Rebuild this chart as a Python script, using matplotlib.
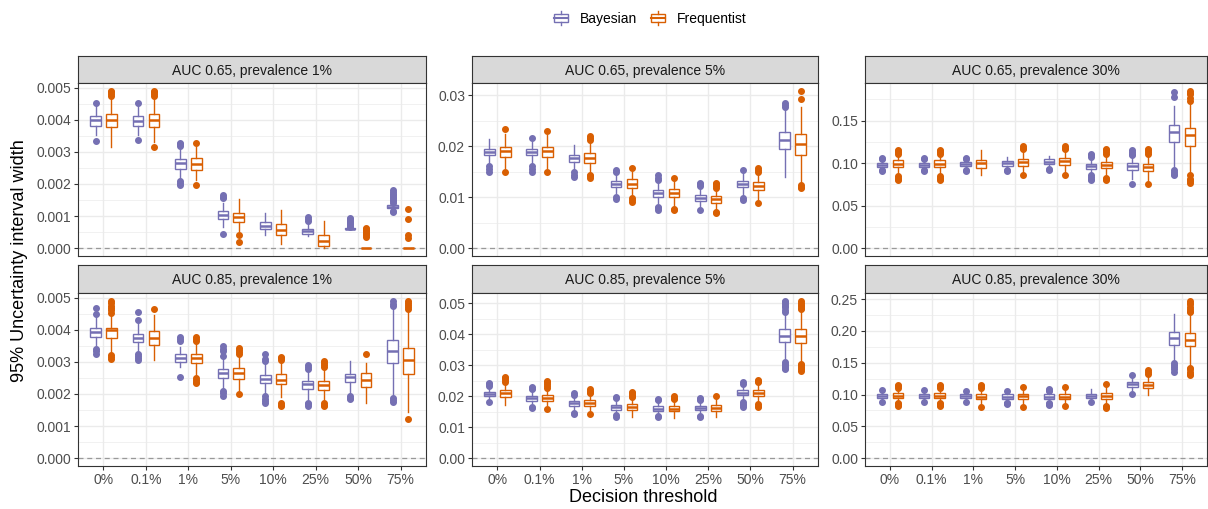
import matplotlib
matplotlib.use("Agg")
import matplotlib.pyplot as plt
from matplotlib.patches import Rectangle
from matplotlib.lines import Line2D
from matplotlib.legend_handler import HandlerBase
from matplotlib.ticker import MultipleLocator, FormatStrFormatter

plt.rcParams['font.family'] = ['Liberation Sans', 'DejaVu Sans']

# categorias y paneles
thresholds = ["0%", "0.1%", "1%", "5%", "10%", "25%", "50%", "75%"]
panel_titles = ["AUC 0.65, prevalence 1%", "AUC 0.65, prevalence 5%", "AUC 0.65, prevalence 30%",
                "AUC 0.85, prevalence 1%", "AUC 0.85, prevalence 5%", "AUC 0.85, prevalence 30%"]
y_steps = [0.001, 0.01, 0.05, 0.001, 0.01, 0.05]
y_decimals = [3, 2, 2, 3, 2, 2]
methods = ["Bayesian", "Frequentist"]

# cada fila: [bigote inferior, q1, mediana, q3, bigote superior]
# AUC 0.65, prevalence 1%
bay_p1 = [[0.00352, 0.00382, 0.00399, 0.00413, 0.00445],
          [0.00352, 0.00381, 0.00397, 0.00411, 0.00445],
          [0.00217, 0.00248, 0.00264, 0.00277, 0.00310],
          [0.00067, 0.00090, 0.00104, 0.00117, 0.00140],
          [0.00041, 0.00059, 0.00070, 0.00080, 0.00111],
          [0.00039, 0.00045, 0.00052, 0.00061, 0.00078],
          [0.00059, 0.00060, 0.00061, 0.00062, 0.00063],
          [0.00120, 0.00124, 0.00129, 0.00134, 0.00138]]
bay_p1_out = [[0.00335, 0.00453], [0.00338, 0.00453],
              [0.00197, 0.00203, 0.00210, 0.00318, 0.00323, 0.00328],
              [0.00045, 0.00155, 0.00160, 0.00166], [],
              [0.00084, 0.00090, 0.00096],
              [0.00066, 0.00070, 0.00074, 0.00078, 0.00082, 0.00086, 0.00090, 0.00093],
              [0.00114, 0.00117, 0.00142, 0.00146, 0.00150, 0.00155, 0.00160, 0.00165, 0.00170, 0.00175, 0.00180]]
freq_p1 = [[0.00316, 0.00376, 0.00398, 0.00417, 0.00466],
           [0.00331, 0.00376, 0.00398, 0.00417, 0.00466],
           [0.00212, 0.00245, 0.00262, 0.00280, 0.00316],
           [0.00052, 0.00081, 0.00098, 0.00111, 0.00153],
           [0.00012, 0.00041, 0.00057, 0.00075, 0.00119],
           [0.00000, 0.00008, 0.00023, 0.00041, 0.00083],
           [0.0, 0.0, 0.0, 0.0, 0.0],
           [0.0, 0.0, 0.0, 0.0, 0.0]]
freq_p1_out = [[0.00475, 0.00480, 0.00485, 0.00490],
               [0.00315, 0.00475, 0.00480, 0.00485, 0.00490],
               [0.00196, 0.00328], [0.00018, 0.00040], [], [],
               [0.00036, 0.00040, 0.00044, 0.00048, 0.00052, 0.00056, 0.00060, 0.00063],
               [0.00031, 0.00041, 0.00090, 0.00122]]

# AUC 0.65, prevalence 5%
bay_p2 = [[0.0166, 0.01826, 0.01891, 0.01944, 0.02133],
          [0.0166, 0.01826, 0.01891, 0.01944, 0.0209],
          [0.0155, 0.01696, 0.01761, 0.01826, 0.02022],
          [0.0108, 0.01194, 0.01259, 0.01324, 0.0146],
          [0.0088, 0.01011, 0.01076, 0.01141, 0.0131],
          [0.0076, 0.00933, 0.00991, 0.01043, 0.0117],
          [0.0104, 0.01194, 0.01259, 0.01324, 0.0147],
          [0.0140, 0.01944, 0.0212, 0.02283, 0.0274]]
bay_p2_out = [[0.0150, 0.0155, 0.0162], [0.0150, 0.0156, 0.0161, 0.02165],
              [0.0140, 0.0144, 0.0149], [0.0097, 0.0101, 0.0150, 0.0154],
              [0.0074, 0.0078, 0.0081, 0.0134, 0.0138, 0.01435],
              [0.0074, 0.0121, 0.0125, 0.0128], [0.0095, 0.0099, 0.0153],
              [0.0277, 0.0281, 0.0285]]
freq_p2 = [[0.0157, 0.0178, 0.01898, 0.01989, 0.02237],
           [0.0157, 0.0178, 0.01898, 0.01989, 0.0221],
           [0.0150, 0.01676, 0.01761, 0.01859, 0.0210],
           [0.0101, 0.01174, 0.01259, 0.0135, 0.0150],
           [0.0082, 0.00998, 0.01076, 0.01154, 0.0131],
           [0.0075, 0.00893, 0.00965, 0.01024, 0.0114],
           [0.0091, 0.01141, 0.0122, 0.01298, 0.0147],
           [0.0128, 0.01826, 0.02041, 0.02237, 0.0277]]
freq_p2_out = [[0.0149, 0.02335], [0.0149, 0.0229],
               [0.0137, 0.0141, 0.0144, 0.0212, 0.0216, 0.0220],
               [0.0091, 0.0095, 0.0098, 0.0157], [0.0074, 0.0077, 0.0137],
               [0.0068, 0.0071, 0.0118, 0.0122, 0.0125, 0.0128],
               [0.0089, 0.0150, 0.0154, 0.0158],
               [0.0117, 0.0120, 0.0124, 0.02935, 0.03085]]

# AUC 0.65, prevalence 30%
bay_p3 = [[0.0944, 0.0959, 0.0982, 0.1005, 0.1025],
          [0.0944, 0.0959, 0.0982, 0.1005, 0.1025],
          [0.0935, 0.0963, 0.0994, 0.1013, 0.1030],
          [0.0945, 0.0970, 0.0998, 0.1025, 0.1072],
          [0.0955, 0.0986, 0.1017, 0.1044, 0.1087],
          [0.0868, 0.0935, 0.0970, 0.0994, 0.1052],
          [0.0818, 0.0924, 0.0963, 0.1002, 0.1072],
          [0.0935, 0.1247, 0.1364, 0.1454, 0.1676]]
bay_p3_out = [[0.0905, 0.0915, 0.1045, 0.1055], [0.0905, 0.0915, 0.1045, 0.1055],
              [0.0905, 0.0915, 0.1045, 0.1055], [0.0908, 0.0915], [0.0924, 0.0932],
              [0.0799, 0.0815, 0.0835, 0.0857, 0.1072, 0.1090, 0.1110],
              [0.0760, 0.1095, 0.1110, 0.1130, 0.1157],
              [0.0857, 0.0875, 0.0895, 0.0915, 0.1773, 0.1840]]
freq_p3 = [[0.0857, 0.0955, 0.0994, 0.1033, 0.1095],
           [0.0857, 0.0955, 0.0994, 0.1033, 0.1095],
           [0.0857, 0.0947, 0.1005, 0.1040, 0.1150],
           [0.0875, 0.0966, 0.1013, 0.1044, 0.1157],
           [0.0875, 0.0982, 0.1025, 0.1056, 0.1157],
           [0.0857, 0.0943, 0.0982, 0.1009, 0.1095],
           [0.0765, 0.0904, 0.0955, 0.0994, 0.1095],
           [0.0875, 0.1200, 0.1325, 0.1415, 0.1705]]
freq_p3_out = [[0.0799, 0.0815, 0.0830, 0.0846, 0.1110, 0.1130, 0.1145, 0.1157],
               [0.0799, 0.0815, 0.0830, 0.0846, 0.1110, 0.1130, 0.1145, 0.1157],
               [], [0.0857, 0.1165, 0.1180, 0.1196], [0.0857, 0.1165, 0.1180, 0.1196],
               [0.0799, 0.0815, 0.0830, 0.1110, 0.1130, 0.1150, 0.1169],
               [0.0752, 0.1110, 0.1130, 0.1150, 0.1169],
               [0.0768, 0.0785, 0.0805, 0.0818, 0.0857, 0.1730, 0.1770, 0.1810, 0.1830, 0.1850]]

# AUC 0.85, prevalence 1%
bay_p4 = [[0.00345, 0.00378, 0.00393, 0.00406, 0.00445],
          [0.00325, 0.00362, 0.00375, 0.00386, 0.00425],
          [0.00285, 0.00299, 0.00313, 0.00323, 0.00345],
          [0.00220, 0.00251, 0.00266, 0.00279, 0.00310],
          [0.00198, 0.00233, 0.00247, 0.00258, 0.00292],
          [0.00183, 0.00216, 0.00230, 0.00240, 0.00272],
          [0.00198, 0.00237, 0.00254, 0.00263, 0.00303],
          [0.00192, 0.00295, 0.00334, 0.00367, 0.00465]]
bay_p4_out = [[0.00326, 0.00333, 0.00341, 0.00448, 0.00469],
              [0.00306, 0.00312, 0.00318, 0.00323, 0.00430, 0.00455],
              [0.00254, 0.00365, 0.00370, 0.00378],
              [0.00195, 0.00202, 0.00209, 0.00318, 0.00335, 0.00340, 0.00349],
              [0.00173, 0.00178, 0.00185, 0.00193, 0.00302, 0.00310, 0.00323],
              [0.00163, 0.00168, 0.00173, 0.00277, 0.00283, 0.00289],
              [0.00183, 0.00188, 0.00193],
              [0.00175, 0.00180, 0.00188, 0.00474, 0.00480, 0.00490]]
freq_p4 = [[0.00328, 0.00373, 0.00398, 0.00406, 0.00445],
           [0.00306, 0.00354, 0.00375, 0.00396, 0.00445],
           [0.00255, 0.00295, 0.00311, 0.00326, 0.00355],
           [0.00210, 0.00247, 0.00264, 0.00282, 0.00320],
           [0.00190, 0.00230, 0.00245, 0.00261, 0.00300],
           [0.00178, 0.00212, 0.00227, 0.00240, 0.00280],
           [0.00173, 0.00222, 0.00243, 0.00264, 0.00295],
           [0.00143, 0.00263, 0.00306, 0.00344, 0.00465]]
freq_p4_out = [[0.00310, 0.00315, 0.00320, 0.00453, 0.00460, 0.00468, 0.00475, 0.00483, 0.00490],
               [0.00466],
               [0.00233, 0.00238, 0.00245, 0.00250, 0.00365, 0.00370, 0.00378],
               [0.00199, 0.00323, 0.00330, 0.00337, 0.00344],
               [0.00162, 0.00167, 0.00172, 0.00306, 0.00311, 0.00316],
               [0.00161, 0.00166, 0.00171, 0.00285, 0.00290, 0.00297, 0.00303],
               [0.00323],
               [0.00123, 0.00466, 0.00472, 0.00478, 0.00484, 0.00490]]

# AUC 0.85, prevalence 5%
bay_p5 = [[0.0188, 0.0199, 0.0206, 0.0214, 0.0230],
          [0.0177, 0.0185, 0.0194, 0.0201, 0.0220],
          [0.0154, 0.0169, 0.0178, 0.0185, 0.0201],
          [0.0145, 0.0156, 0.0165, 0.0172, 0.0188],
          [0.0140, 0.0151, 0.0159, 0.0167, 0.0182],
          [0.0144, 0.0154, 0.0161, 0.0169, 0.0182],
          [0.0188, 0.0202, 0.0211, 0.0219, 0.0236],
          [0.0322, 0.0375, 0.0395, 0.0415, 0.0466]]
bay_p5_out = [[0.0180, 0.0233, 0.0238, 0.0242],
              [0.0162, 0.0166, 0.0222, 0.0226, 0.0229],
              [0.0142, 0.0146, 0.0205, 0.0210],
              [0.0134, 0.0138, 0.0193, 0.0197],
              [0.0131, 0.0135, 0.0186, 0.0190],
              [0.0132, 0.0136, 0.0186, 0.0190, 0.0194],
              [0.0166, 0.0171, 0.0176, 0.0181, 0.0240, 0.0244],
              [0.0287, 0.0291, 0.0295, 0.0300, 0.0305, 0.0310, 0.0472, 0.0478, 0.0487, 0.0492, 0.0497, 0.0502, 0.0507]]
freq_p5 = [[0.0172, 0.0197, 0.0209, 0.0220, 0.0243],
           [0.0172, 0.0183, 0.0194, 0.0203, 0.0222],
           [0.0155, 0.0167, 0.0178, 0.0188, 0.0205],
           [0.0133, 0.0154, 0.0165, 0.0174, 0.0193],
           [0.0129, 0.0151, 0.0160, 0.0169, 0.0188],
           [0.0133, 0.0152, 0.0161, 0.0171, 0.0194],
           [0.0182, 0.0199, 0.0210, 0.0219, 0.0238],
           [0.0307, 0.0370, 0.0394, 0.0415, 0.0472]]
freq_p5_out = [[0.0247, 0.0252, 0.0257, 0.0262],
               [0.0158, 0.0226, 0.0232, 0.0238, 0.0244, 0.0250],
               [0.0142, 0.0210, 0.0214, 0.0218, 0.0222],
               [0.0197, 0.0201, 0.0205, 0.0209, 0.0213],
               [0.0191, 0.0195, 0.0199],
               [0.0199],
               [0.0165, 0.0169, 0.0173, 0.0244, 0.0248, 0.0252],
               [0.0282, 0.0287, 0.0291, 0.0295, 0.0300, 0.0304, 0.0480, 0.0485, 0.0490, 0.0495, 0.0500, 0.0505]]

# AUC 0.85, prevalence 30%
bay_p6 = [[0.0930, 0.0951, 0.0977, 0.1003, 0.1045],
          [0.0930, 0.0951, 0.0977, 0.1003, 0.1045],
          [0.0915, 0.0941, 0.0972, 0.1003, 0.1035],
          [0.0890, 0.0930, 0.0967, 0.1003, 0.1035],
          [0.0890, 0.0925, 0.0967, 0.1003, 0.1040],
          [0.0925, 0.0951, 0.0982, 0.1008, 0.1081],
          [0.1048, 0.1123, 0.1159, 0.1200, 0.1270],
          [0.1515, 0.1783, 0.1892, 0.1980, 0.2266]]
bay_p6_out = [[0.0889, 0.1070], [0.0889, 0.1070], [0.0889, 0.1055],
              [0.0847, 0.0860, 0.0873, 0.1055],
              [0.0837, 0.0855, 0.0873, 0.1055, 0.1068, 0.1081],
              [0.0878], [0.1008, 0.1305],
              [0.1357, 0.1395, 0.1435, 0.1465, 0.1497]]
freq_p6 = [[0.0889, 0.0941, 0.0982, 0.1024, 0.1080],
           [0.0889, 0.0941, 0.0982, 0.1024, 0.1080],
           [0.0837, 0.0925, 0.0967, 0.1013, 0.1080],
           [0.0837, 0.0930, 0.0977, 0.1013, 0.1085],
           [0.0847, 0.0925, 0.0967, 0.1008, 0.1085],
           [0.0837, 0.0925, 0.0977, 0.1029, 0.1123],
           [0.0993, 0.1097, 0.1154, 0.1200, 0.1305],
           [0.1450, 0.1762, 0.1861, 0.1975, 0.2266]]
freq_p6_out = [[0.0821, 0.0837, 0.0855, 0.0873, 0.1107, 0.1128, 0.1149],
               [0.0821, 0.0837, 0.0855, 0.0873, 0.1107, 0.1128, 0.1149],
               [0.0811, 0.1107, 0.1128, 0.1149],
               [0.0811, 0.1123], [0.0821, 0.1123],
               [0.0785, 0.0803, 0.0821, 0.1164],
               [0.1331, 0.1357, 0.1383],
               [0.1305, 0.1330, 0.1362, 0.1395, 0.1424, 0.2292, 0.2320, 0.2349, 0.2380, 0.2417, 0.2445, 0.2474]]

bay_all = [bay_p1, bay_p2, bay_p3, bay_p4, bay_p5, bay_p6]
bay_all_out = [bay_p1_out, bay_p2_out, bay_p3_out, bay_p4_out, bay_p5_out, bay_p6_out]
freq_all = [freq_p1, freq_p2, freq_p3, freq_p4, freq_p5, freq_p6]
freq_all_out = [freq_p1_out, freq_p2_out, freq_p3_out, freq_p4_out, freq_p5_out, freq_p6_out]

colors = {"Bayesian": "#7570B3", "Frequentist": "#D95F02"}

W, H = 1208, 509
def px_rect(x0, y0, x1, y1):
    return [x0 / W, 1 - y1 / H, (x1 - x0) / W, (y1 - y0) / H]

cols = [(78, 426), (472, 818), (865, 1207)]
rows = [(83, 256), (293, 466)]
strips = [(56, 83), (265, 293)]

def make_stats(rows_stats, outs):
    st = []
    for s, o in zip(rows_stats, outs):
        st.append(dict(whislo=s[0], q1=s[1], med=s[2], q3=s[3], whishi=s[4], fliers=o))
    return st

fig = plt.figure(figsize=(W / 100, H / 100), dpi=100)

for k in range(6):
    r, c = divmod(k, 3)
    x0, x1 = cols[c]
    # tira del título
    sax = fig.add_axes(px_rect(x0, strips[r][0], x1, strips[r][1]))
    sax.set_facecolor("#D9D9D9")
    sax.set_xticks([]); sax.set_yticks([])
    for sp in sax.spines.values():
        sp.set_color("#333333"); sp.set_linewidth(0.8)
    sax.text(0.5, 0.45, panel_titles[k], ha="center", va="center", fontsize=10, color="#1A1A1A",
             transform=sax.transAxes)

    ax = fig.add_axes(px_rect(x0, rows[r][0], x1, rows[r][1]))
    ax.set_axisbelow(True)
    pos = list(range(1, len(thresholds) + 1))
    for m, stats, outs, off in [("Bayesian", bay_all[k], bay_all_out[k], -0.1875),
                                ("Frequentist", freq_all[k], freq_all_out[k], 0.1875)]:
        col = colors[m]
        ax.bxp(make_stats(stats, outs), positions=[p + off for p in pos], widths=0.25,
               showcaps=False, patch_artist=True, manage_ticks=False,
               boxprops=dict(facecolor="white", edgecolor=col, linewidth=1.0),
               medianprops=dict(color=col, linewidth=1.8, solid_capstyle="butt"),
               whiskerprops=dict(color=col, linewidth=1.0),
               flierprops=dict(marker="o", markerfacecolor=col, markeredgecolor=col,
                               markersize=4, linestyle="none"))
    ax.axhline(0, color="#999999", linestyle=(0, (4, 3)), linewidth=0.9, zorder=1)
    ax.set_xlim(0.4, len(thresholds) + 0.6)
    ax.margins(y=0.05)
    ax.set_xticks(pos)
    ax.yaxis.set_major_locator(MultipleLocator(y_steps[k]))
    ax.yaxis.set_minor_locator(MultipleLocator(y_steps[k] / 2))
    ax.yaxis.set_major_formatter(FormatStrFormatter("%." + str(y_decimals[k]) + "f"))
    ax.grid(True, which="major", color="#EBEBEB", linewidth=1.0)
    ax.grid(True, which="minor", axis="y", color="#EBEBEB", linewidth=0.5)
    ax.tick_params(which="minor", length=0)
    ax.tick_params(which="major", length=3, color="#333333", labelcolor="#4D4D4D", labelsize=10, pad=2)
    if r == 0:
        ax.tick_params(axis="x", length=0, labelbottom=False)
    else:
        ax.set_xticklabels(thresholds)
    for sp in ax.spines.values():
        sp.set_color("#333333"); sp.set_linewidth(0.8)

fig.text(643 / W, 1 - 498 / H, "Decision threshold", ha="center", va="center", fontsize=13)
fig.text(20 / W, 1 - 261 / H, "95% Uncertainty interval width", ha="center", va="center",
         rotation=90, fontsize=13)

# leyenda con el símbolo de caja
class BoxKey(HandlerBase):
    def create_artists(self, legend, orig_handle, xdescent, ydescent, width, height, fontsize, trans):
        col = orig_handle.get_color()
        cx = -xdescent + width / 2
        bw = width * 0.85
        y0 = -ydescent
        box = Rectangle((cx - bw / 2, y0 + height * 0.1), bw, height * 0.8, facecolor="white",
                        edgecolor=col, linewidth=1.0, transform=trans)
        med = Line2D([cx - bw / 2, cx + bw / 2], [y0 + height * 0.5] * 2, color=col, linewidth=1.5,
                     transform=trans)
        w1 = Line2D([cx, cx], [y0 - height * 0.15, y0 + height * 0.1], color=col, linewidth=1.0,
                    transform=trans)
        w2 = Line2D([cx, cx], [y0 + height * 0.9, y0 + height * 1.15], color=col, linewidth=1.0,
                    transform=trans)
        return [box, med, w1, w2]

handles = [Line2D([], [], color=colors[m]) for m in methods]
fig.legend(handles, methods, loc="center", bbox_to_anchor=(650 / W, 1 - 19 / H), ncol=2,
           frameon=False, handler_map={Line2D: BoxKey()}, handlelength=1.15, handleheight=0.8,
           handletextpad=0.8, columnspacing=0.9, fontsize=10)

fig.savefig("out.png", dpi=100)
